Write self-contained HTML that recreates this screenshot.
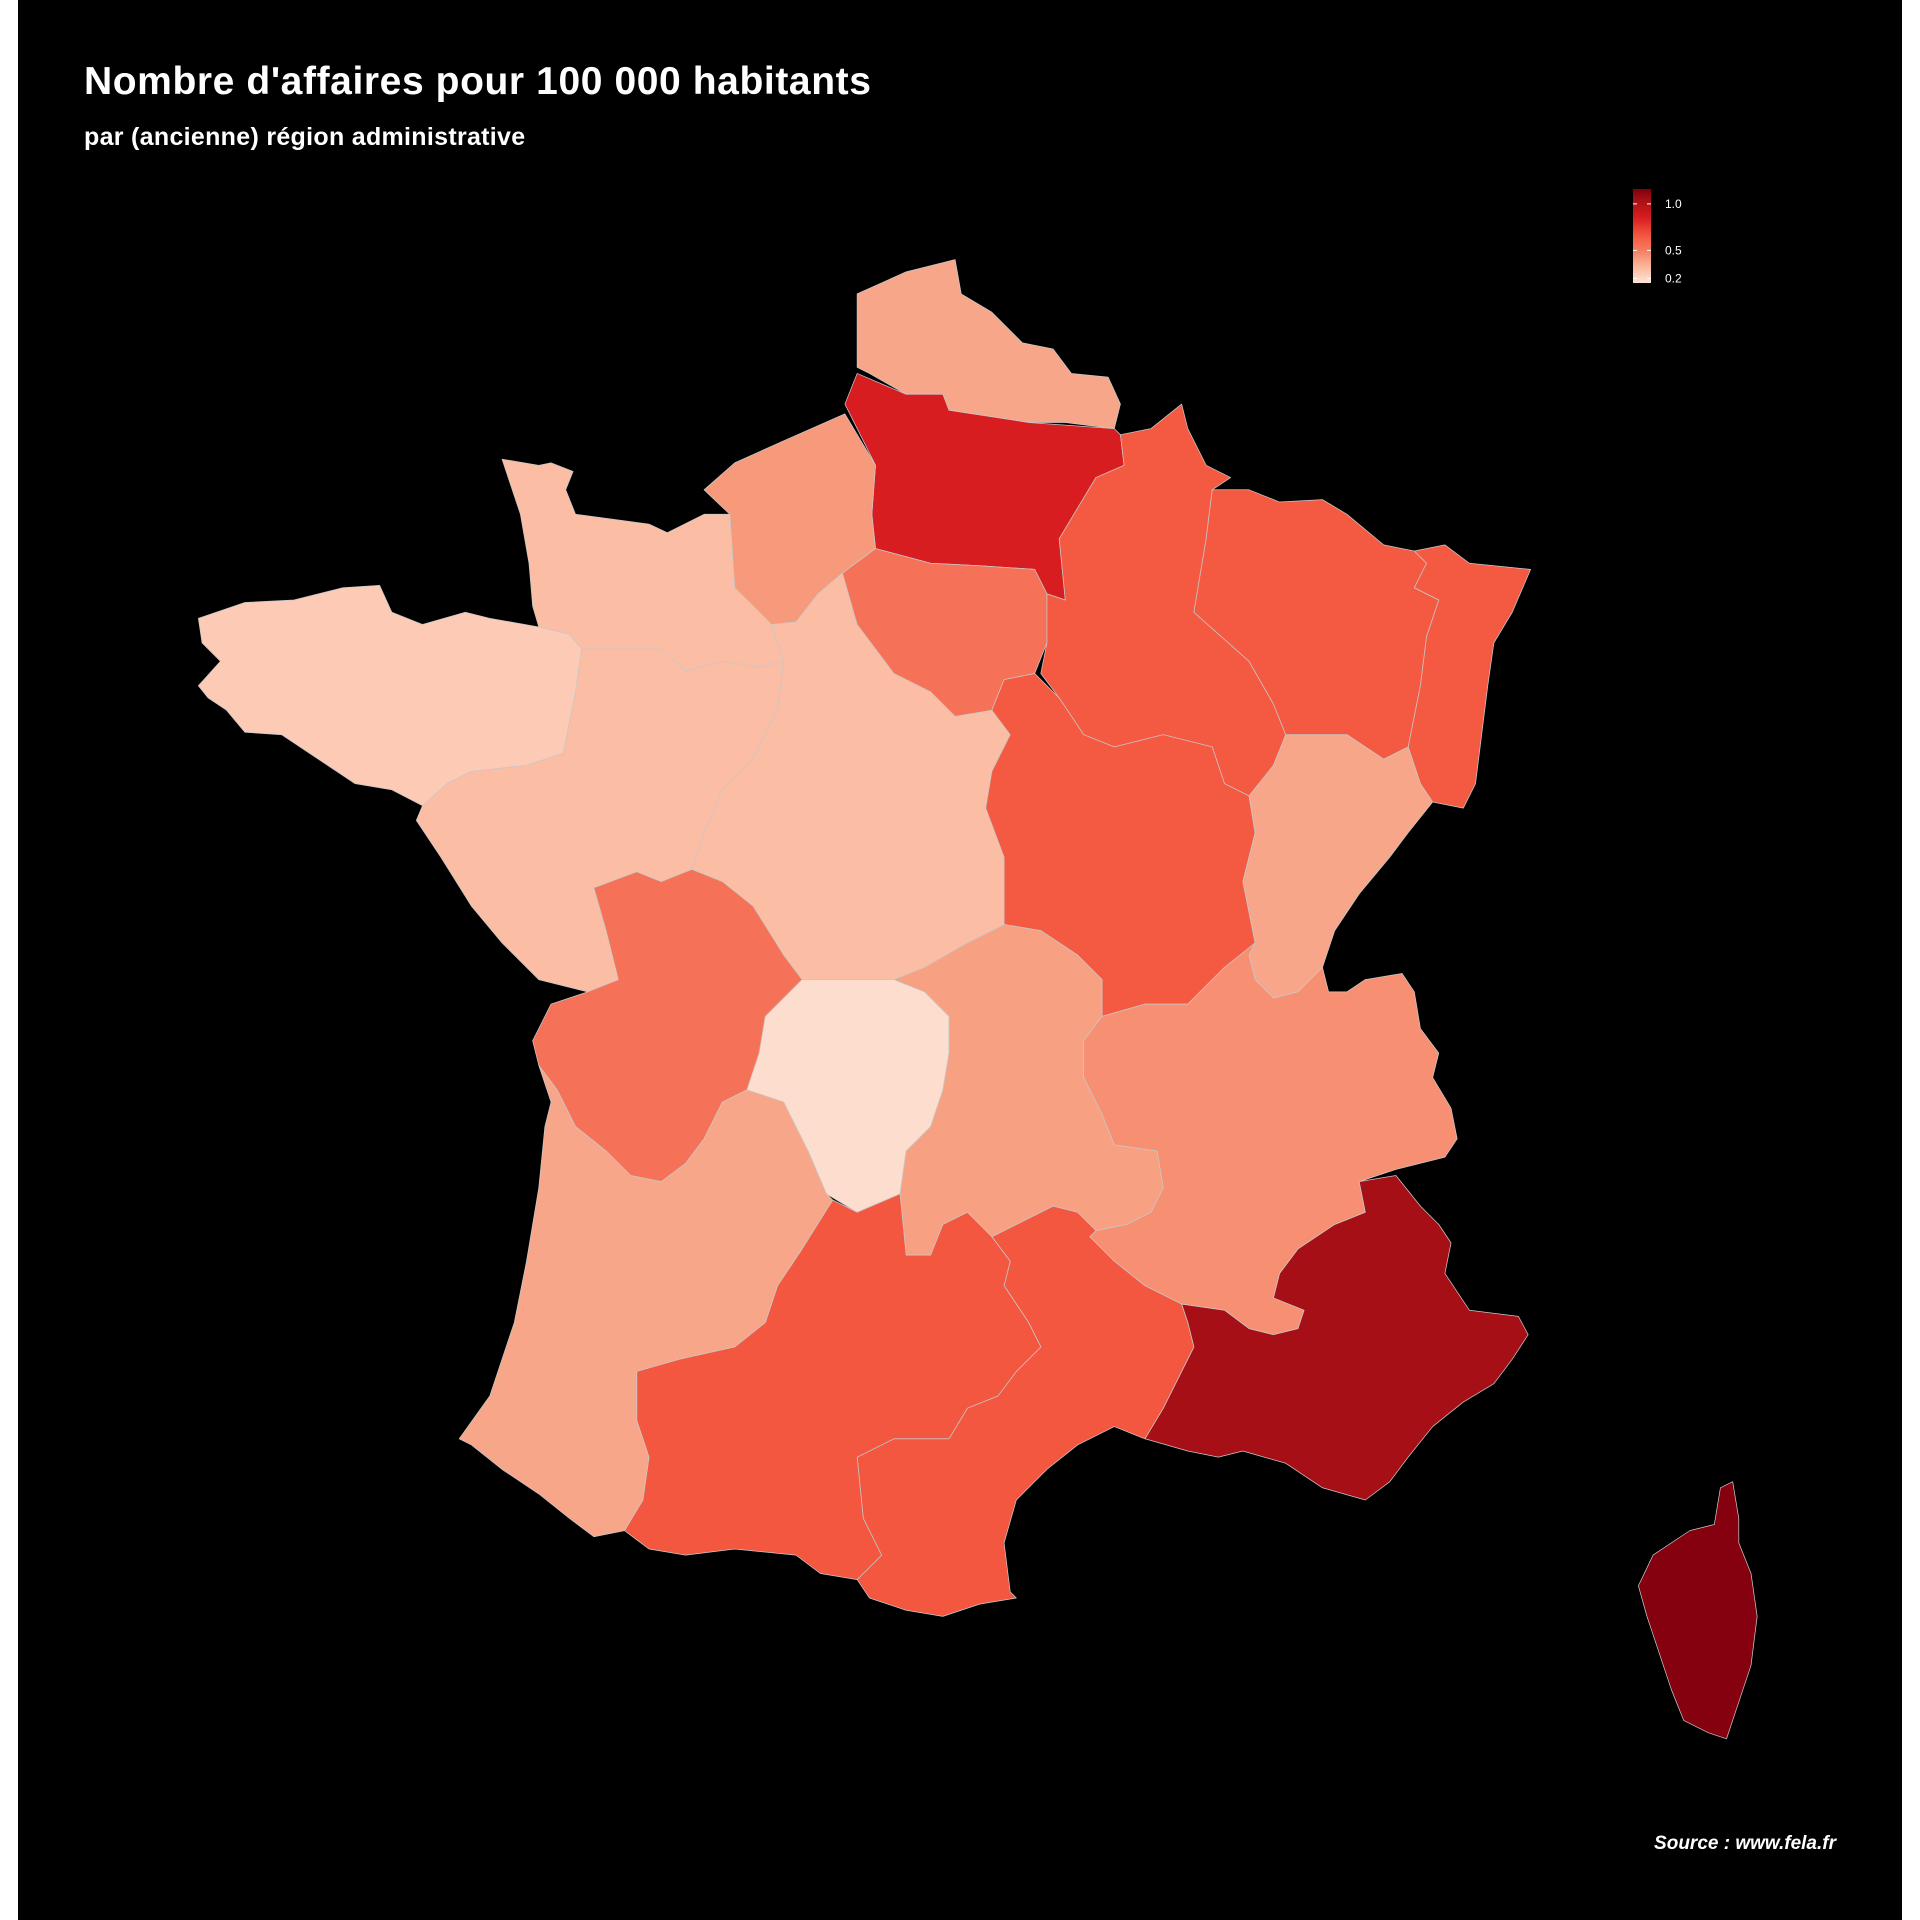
<!DOCTYPE html>
<html><head><meta charset="utf-8">
<style>
html,body{margin:0;padding:0;background:#fff;}
svg{display:block;}
</style></head>
<body>
<svg id="chart" width="1920" height="1920" xmlns="http://www.w3.org/2000/svg">
<rect x="0" y="0" width="1920" height="1920" fill="#ffffff"/>
<rect x="18" y="0" width="1884" height="1920" fill="#000000"/>
<text x="84" y="94" fill="#fff" font-family="Liberation Sans, sans-serif" font-size="39" font-weight="bold" letter-spacing="0.6">Nombre d'affaires pour 100 000 habitants</text>
<text x="84" y="145" fill="#fff" font-family="Liberation Sans, sans-serif" font-size="25" font-weight="bold" letter-spacing="0.3">par (ancienne) région administrative</text>
<text x="1836" y="1849" fill="#fff" text-anchor="end" font-family="Liberation Sans, sans-serif" font-size="19" font-weight="bold" font-style="italic">Source : www.fela.fr</text>
<g id="map" transform="scale(1.2245)"></g>
<g id="legend"></g>
</svg>
<script>
const regionNames = ["nord-pas-de-calais","picardie","haute-normandie","basse-normandie","bretagne","pays-de-la-loire","centre","ile-de-france","champagne-ardenne","lorraine","alsace","bourgogne","franche-comte","poitou-charentes","limousin","auvergne","rhone-alpes","paca","languedoc-roussillon","midi-pyrenees","aquitaine","corse"];
const regionValues = [0.38,0.85,0.42,0.3,0.25,0.3,0.3,0.55,0.65,0.65,0.65,0.65,0.38,0.55,0.18,0.4,0.45,1.05,0.66,0.66,0.38,1.15];
const legendTicks = [1.0,0.5,0.2];
const legendTickLabels = ["1.0","0.5","0.2"];
const legendMin = 0.15, legendMax = 1.16;

const shapes = [
"700,240 740,222 780,212 785,240 810,255 835,280 860,285 875,305 905,308 915,330 910,350 870,345 840,345 775,335 770,322 740,322 710,305 700,300",
"700,305 740,322 770,322 775,335 840,345 910,350 915,355 918,380 895,390 865,440 870,490 855,485 845,465 800,462 760,460 715,448 712,420 715,380 690,330",
"575,400 600,378 640,360 690,338 715,380 712,420 715,448 688,468 668,485 650,508 630,510 600,480 596,420",
"410,375 440,380 450,378 468,385 462,400 470,420 530,428 545,435 575,420 596,420 600,480 630,510 640,540 620,545 590,540 560,548 540,530 475,530 465,518 440,512 435,495 432,460 425,420",
"162,505 200,492 240,490 280,480 310,478 320,500 345,510 380,500 400,505 440,512 465,518 475,530 470,565 460,615 430,625 385,630 365,640 345,658 320,645 290,640 260,620 230,600 200,598 185,580 170,570 162,560 180,540 165,525",
"345,658 365,640 385,630 430,625 460,615 470,565 475,530 540,530 560,548 590,540 620,545 640,540 635,580 615,620 590,645 575,680 565,710 540,720 520,712 485,725 495,760 505,800 480,810 440,800 410,770 385,740 360,700 340,670",
"640,540 630,510 650,508 668,485 688,468 700,510 730,550 760,565 780,585 810,580 825,600 810,630 805,660 820,700 820,755 790,770 755,790 730,800 655,800 640,780 615,740 590,720 565,710 575,680 590,645 615,620 635,580",
"688,468 715,448 760,460 800,462 845,465 855,485 855,525 845,550 820,555 810,580 780,585 760,565 730,550 700,510",
"870,490 865,440 895,390 918,380 915,355 940,350 965,330 970,350 985,380 1005,390 990,400 985,440 975,500 1020,540 1040,575 1050,600 1040,625 1020,650 1000,640 990,610 950,600 910,610 885,600 865,570 850,550 855,525 855,485",
"990,400 1020,400 1045,410 1080,408 1100,420 1130,445 1155,450 1165,460 1155,480 1175,490 1165,520 1160,560 1150,610 1130,620 1100,600 1070,600 1050,600 1040,575 1020,540 975,500 985,440",
"1155,450 1180,445 1200,460 1250,465 1235,500 1220,525 1215,560 1210,600 1205,640 1195,660 1170,655 1160,640 1150,610 1160,560 1165,520 1175,490 1155,480 1165,460",
"810,630 825,600 810,580 820,555 845,550 865,570 885,600 910,610 950,600 990,610 1000,640 1020,650 1025,680 1015,720 1025,770 1000,790 970,820 935,820 900,830 900,800 880,780 850,760 820,755 820,700 805,660",
"1020,650 1040,625 1050,600 1070,600 1100,600 1130,620 1150,610 1160,640 1170,655 1150,680 1135,700 1110,730 1090,760 1080,790 1060,810 1040,815 1025,800 1020,780 1025,770 1015,720 1025,680",
"485,725 520,712 540,720 565,710 590,720 615,740 640,780 655,800 625,830 620,860 610,890 590,900 575,930 560,950 540,965 515,960 495,940 470,920 455,890 440,870 435,850 450,820 480,810 505,800 495,760",
"655,800 690,800 730,800 755,810 775,830 775,860 770,890 760,920 740,940 735,975 700,990 675,975 660,940 640,900 610,890 620,860 625,830",
"730,800 755,790 790,770 820,755 850,760 880,780 900,800 900,830 885,850 885,880 900,910 910,935 945,940 950,970 940,990 920,1000 895,1005 880,990 860,985 830,1000 810,1010 790,990 770,1000 760,1025 740,1025 735,975 740,940 760,920 770,890 775,860 775,830 755,810",
"900,830 935,820 970,820 1000,790 1025,770 1020,780 1025,800 1040,815 1060,810 1080,790 1085,810 1100,810 1115,800 1145,795 1155,810 1160,840 1175,860 1170,880 1185,905 1190,930 1180,945 1140,955 1110,965 1115,990 1090,1000 1060,1020 1045,1040 1040,1060 1065,1070 1060,1085 1040,1090 1020,1085 1000,1070 965,1065 935,1050 910,1030 890,1010 895,1005 920,1000 940,990 950,970 945,940 910,935 900,910 885,880 885,850",
"965,1065 1000,1070 1020,1085 1040,1090 1060,1085 1065,1070 1040,1060 1045,1040 1060,1020 1090,1000 1115,990 1110,965 1140,960 1160,985 1175,1000 1185,1015 1180,1040 1200,1070 1240,1075 1248,1090 1235,1110 1220,1130 1195,1145 1170,1165 1150,1190 1135,1210 1115,1225 1080,1215 1050,1195 1015,1185 995,1190 970,1185 935,1175 950,1150 965,1120 975,1100 970,1080",
"810,1010 830,1000 860,985 880,990 895,1005 890,1010 910,1030 935,1050 965,1065 970,1080 975,1100 965,1120 950,1150 935,1175 910,1165 880,1180 855,1200 830,1225 820,1260 825,1300 830,1305 800,1310 770,1320 740,1315 710,1305 700,1290 720,1270 705,1240 700,1190 730,1175 775,1175 790,1150 815,1140 830,1120 850,1100 840,1080 820,1050 825,1030",
"680,980 700,990 735,975 740,1025 760,1025 770,1000 790,990 810,1010 825,1030 820,1050 840,1080 850,1100 830,1120 815,1140 790,1150 775,1175 730,1175 700,1190 705,1240 720,1270 700,1290 670,1285 650,1270 600,1265 560,1270 530,1265 510,1250 525,1225 530,1190 520,1160 520,1120 555,1110 600,1100 625,1080 635,1050 655,1020",
"440,870 455,890 470,920 495,940 515,960 540,965 560,950 575,930 590,900 610,890 640,900 660,940 675,975 680,980 655,1020 635,1050 625,1080 600,1100 555,1110 520,1120 520,1160 530,1190 525,1225 510,1250 485,1255 465,1240 440,1220 410,1200 385,1180 375,1175 400,1140 420,1080 430,1030 440,970 445,920 450,900",
"1405,1215 1415,1210 1420,1240 1420,1260 1430,1285 1435,1320 1430,1360 1420,1390 1410,1420 1395,1415 1375,1405 1365,1380 1355,1350 1345,1320 1338,1295 1350,1270 1380,1250 1400,1245"
];

const stops = [[0.15,[254,229,217]],[0.3,[251,189,163]],[0.4,[247,160,130]],[0.5,[246,125,97]],[0.65,[244,90,66]],[0.85,[215,29,32]],[1.05,[165,15,21]],[1.16,[130,0,14]]];
function colorScale(v){
  if(v<=stops[0][0]) return rgb(stops[0][1]);
  for(let i=1;i<stops.length;i++){
    if(v<=stops[i][0]){
      const t=(v-stops[i-1][0])/(stops[i][0]-stops[i-1][0]);
      const a=stops[i-1][1], b=stops[i][1];
      return rgb(a.map((x,k)=>x+(b[k]-x)*t));
    }
  }
  return rgb(stops[stops.length-1][1]);
}
function rgb(c){return 'rgb('+c.map(Math.round).join(',')+')';}

const NS="http://www.w3.org/2000/svg";
const map=document.getElementById('map');
regionNames.forEach((name,i)=>{
  const p=document.createElementNS(NS,'polygon');
  p.setAttribute('points',shapes[i]);
  p.setAttribute('fill',colorScale(regionValues[i]));
  p.setAttribute('stroke','#c8c8c8');
  p.setAttribute('stroke-width','0.6');
  p.setAttribute('stroke-linejoin','round');
  
  
  map.appendChild(p);
});

const lg=document.getElementById('legend');
const barX=1633, barTop=189, barBot=283, barW=18;
function ly(v){return barBot-(v-legendMin)/(legendMax-legendMin)*(barBot-barTop);}
const defs=document.createElementNS(NS,'defs');
const grad=document.createElementNS(NS,'linearGradient');
grad.setAttribute('id','lgGrad');grad.setAttribute('x1','0');grad.setAttribute('y1','1');grad.setAttribute('x2','0');grad.setAttribute('y2','0');
for(let i=0;i<=20;i++){
  const v=legendMin+(legendMax-legendMin)*i/20;
  const s=document.createElementNS(NS,'stop');
  s.setAttribute('offset',(i/20).toString());
  s.setAttribute('stop-color',colorScale(v));
  grad.appendChild(s);
}
defs.appendChild(grad);lg.appendChild(defs);
const bar=document.createElementNS(NS,'rect');
bar.setAttribute('x',barX);bar.setAttribute('y',barTop);bar.setAttribute('width',barW);bar.setAttribute('height',barBot-barTop);
bar.setAttribute('fill','url(#lgGrad)');


lg.appendChild(bar);
legendTicks.forEach((t,i)=>{
  const y=ly(t);
  [[barX,barX+4],[barX+barW-4,barX+barW]].forEach(([a,b])=>{
    const l=document.createElementNS(NS,'line');
    l.setAttribute('x1',a);l.setAttribute('x2',b);l.setAttribute('y1',y);l.setAttribute('y2',y);
    l.setAttribute('stroke','#fff');l.setAttribute('stroke-width','1');
    
    
    lg.appendChild(l);
  });
  const tx=document.createElementNS(NS,'text');
  tx.setAttribute('x',barX+32);tx.setAttribute('y',y+4);
  tx.setAttribute('fill','#fff');tx.setAttribute('font-size','12');
  tx.setAttribute('font-family','Liberation Sans, sans-serif');
  tx.textContent=legendTickLabels[i];
  
  
  lg.appendChild(tx);
});
</script>
</body></html>
